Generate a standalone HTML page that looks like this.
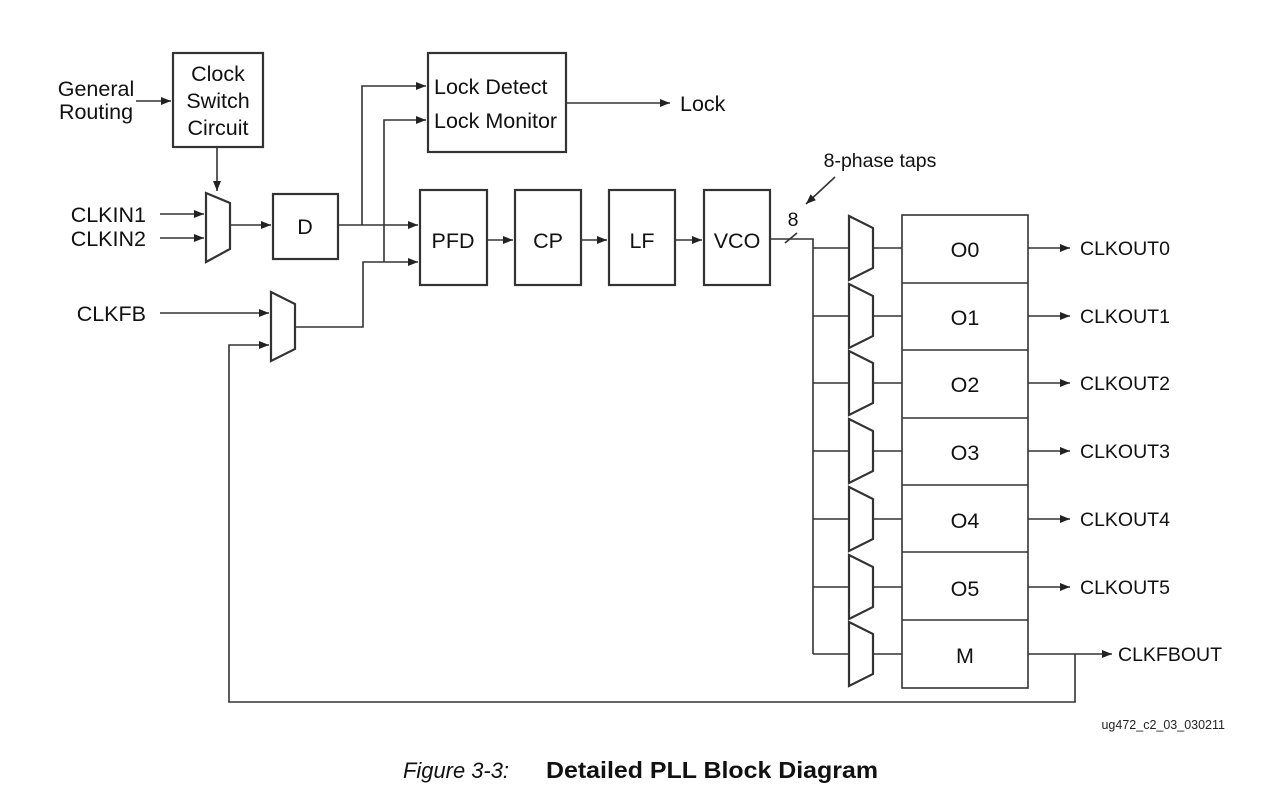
<!DOCTYPE html>
<html><head><meta charset="utf-8"><style>
html,body{margin:0;padding:0;background:#fff;}
svg{display:block;font-family:"Liberation Sans",Arial,sans-serif;}
</style></head><body>
<svg width="1262" height="791" viewBox="0 0 1262 791" xmlns="http://www.w3.org/2000/svg">
<defs>
<marker id="a" markerWidth="10" markerHeight="8" refX="10" refY="4" orient="auto" markerUnits="userSpaceOnUse">
<path d="M0,0 L10,4 L0,8 z" fill="#222"/></marker>
<g id="r" fill="none" stroke="#333" stroke-width="1.6"><path d="M813,0H849M873,0H902"/><path d="M849,-32 L873,-20 L873,20 L849,32 Z" stroke-width="2.2"/></g>
</defs>
<g fill="none" stroke="#333" stroke-width="1.6">
<rect x="173" y="53" width="90" height="94" stroke-width="2.2"/>
<rect x="428" y="53" width="138" height="99" stroke-width="2.2"/>
<rect x="273" y="194" width="65" height="65" stroke-width="2.2"/>
<rect x="420" y="190" width="67" height="95" stroke-width="2.2"/>
<rect x="515" y="190" width="66" height="95" stroke-width="2.2"/>
<rect x="609" y="190" width="66" height="95" stroke-width="2.2"/>
<rect x="704" y="190" width="66" height="95" stroke-width="2.2"/>
<rect x="902" y="215" width="126" height="473"/>
<path d="M902,283H1028M902,350H1028M902,418H1028M902,485H1028M902,552H1028M902,620H1028"/>
<path d="M206,193 L230,203 L230,249 L206,262 Z" stroke-width="2.2"/>
<path d="M271,292 L295,304 L295,349 L271,361 Z" stroke-width="2.2"/>
<path d="M136,101H171" marker-end="url(#a)"/>
<path d="M217,147V191" marker-end="url(#a)"/>
<path d="M160,214H204" marker-end="url(#a)"/>
<path d="M160,238H204" marker-end="url(#a)"/>
<path d="M230,225H271" marker-end="url(#a)"/>
<path d="M338,225H418" marker-end="url(#a)"/>
<path d="M362,225V86H426" marker-end="url(#a)"/>
<path d="M384,262V120H426" marker-end="url(#a)"/>
<path d="M295,327H363V262H418" marker-end="url(#a)"/>
<path d="M160,313H269" marker-end="url(#a)"/>
<path d="M566,103H670" marker-end="url(#a)"/>
<path d="M487,240H513" marker-end="url(#a)"/>
<path d="M581,240H607" marker-end="url(#a)"/>
<path d="M675,240H702" marker-end="url(#a)"/>
<path d="M770,239H813V654"/>
<path d="M785,243L797,233"/>
<path d="M835,177L806,204" marker-end="url(#a)"/>
<path d="M1028,654H1112" marker-end="url(#a)"/>
<path d="M1075,654V702H229V345H269" marker-end="url(#a)"/>
<path d="M1028,248H1070" marker-end="url(#a)"/>
<path d="M1028,316H1070" marker-end="url(#a)"/>
<path d="M1028,383H1070" marker-end="url(#a)"/>
<path d="M1028,451H1070" marker-end="url(#a)"/>
<path d="M1028,519H1070" marker-end="url(#a)"/>
<path d="M1028,587H1070" marker-end="url(#a)"/>
</g>
<use href="#r" transform="translate(0,248)"/>
<use href="#r" transform="translate(0,316)"/>
<use href="#r" transform="translate(0,383)"/>
<use href="#r" transform="translate(0,451)"/>
<use href="#r" transform="translate(0,519)"/>
<use href="#r" transform="translate(0,587)"/>
<use href="#r" transform="translate(0,654)"/>
<g fill="#111" font-size="21.5">
<text x="96" y="96" text-anchor="middle">General</text>
<text x="96" y="119" text-anchor="middle">Routing</text>
<text x="218" y="81" text-anchor="middle">Clock</text>
<text x="218" y="108" text-anchor="middle">Switch</text>
<text x="218" y="135" text-anchor="middle">Circuit</text>
<text x="434" y="94">Lock Detect</text>
<text x="434" y="128">Lock Monitor</text>
<text x="680" y="111">Lock</text>
<text x="146" y="222" text-anchor="end">CLKIN1</text>
<text x="146" y="246" text-anchor="end">CLKIN2</text>
<text x="146" y="321" text-anchor="end">CLKFB</text>
<text x="305" y="234" text-anchor="middle">D</text>
<text x="453" y="248" text-anchor="middle">PFD</text>
<text x="548" y="248" text-anchor="middle">CP</text>
<text x="642" y="248" text-anchor="middle">LF</text>
<text x="737" y="248" text-anchor="middle">VCO</text>
<text x="965" y="257" text-anchor="middle">O0</text>
<text x="965" y="325" text-anchor="middle">O1</text>
<text x="965" y="392" text-anchor="middle">O2</text>
<text x="965" y="460" text-anchor="middle">O3</text>
<text x="965" y="528" text-anchor="middle">O4</text>
<text x="965" y="596" text-anchor="middle">O5</text>
<text x="965" y="663" text-anchor="middle">M</text>
</g>
<g fill="#111" font-size="19.5">
<text x="793" y="226" text-anchor="middle">8</text>
<text x="880" y="167" text-anchor="middle">8-phase taps</text>
<text x="1080" y="255">CLKOUT0</text>
<text x="1080" y="323">CLKOUT1</text>
<text x="1080" y="390">CLKOUT2</text>
<text x="1080" y="458">CLKOUT3</text>
<text x="1080" y="526">CLKOUT4</text>
<text x="1080" y="594">CLKOUT5</text>
<text x="1118" y="661">CLKFBOUT</text>
</g>
<text x="1225" y="729" font-size="12.5" text-anchor="end" fill="#222">ug472_c2_03_030211</text>
<text x="403" y="778" font-size="22" font-style="italic" fill="#111" textLength="106" lengthAdjust="spacingAndGlyphs">Figure 3-3:</text>
<text x="546" y="778" font-size="23" font-weight="bold" fill="#111" textLength="332" lengthAdjust="spacingAndGlyphs">Detailed PLL Block Diagram</text>
</svg>
</body></html>
